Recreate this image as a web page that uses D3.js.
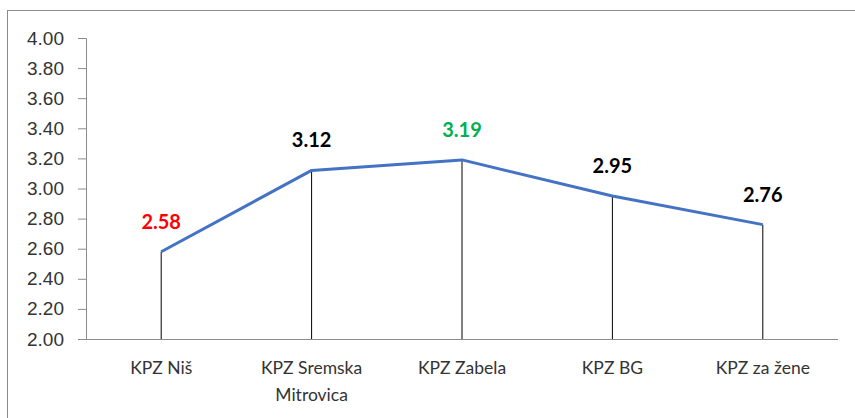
<!DOCTYPE html>
<meta charset="utf-8">
<style>
body { margin: 0; padding: 0; background: #fff; }
svg { display: block; font-family: Lato, "Open Sans", sans-serif; }
.axis path, .axis line { stroke: #8c8c8c; }
.axis text { fill: #333; }
</style>
<body>
<div id="chart"></div>
<script src="https://cdn.jsdelivr.net/npm/d3@7"></script>
<script>
// data
var categories = ["KPZ Niš", "KPZ Sremska Mitrovica", "KPZ Zabela", "KPZ BG", "KPZ za žene"];
var values = [2.58, 3.12, 3.19, 2.95, 2.76];
var labelColors = ["#ff0000", "#000000", "#00b050", "#000000", "#000000"];
var yTicks = [2.0, 2.2, 2.4, 2.6, 2.8, 3.0, 3.2, 3.4, 3.6, 3.8, 4.0];

var width = 855, height = 418;
var margin = {top: 38, right: 17, bottom: 79, left: 86};

var svg = d3.select("#chart").append("svg")
    .attr("width", width)
    .attr("height", height);

// chart frame
svg.append("rect")
    .attr("x", 7.5).attr("y", 10.5)
    .attr("width", 860).attr("height", 420)
    .attr("fill", "none")
    .attr("stroke", "#8c8c8c");

var x = d3.scaleBand()
    .domain(categories)
    .range([margin.left, width - margin.right]);

var y = d3.scaleLinear()
    .domain([2, 4])
    .range([height - margin.bottom, margin.top]);

// y axis
svg.append("g")
    .attr("class", "axis")
    .attr("transform", "translate(" + margin.left + ",0)")
    .call(d3.axisLeft(y).tickValues(yTicks).tickFormat(d3.format(".2f")).tickSizeOuter(0).tickSize(8).tickPadding(14))
    .call(function(g) { g.selectAll("text").attr("font-size", 19); });

// x axis
var xAxis = svg.append("g")
    .attr("class", "axis")
    .attr("transform", "translate(0," + (height - margin.bottom) + ")")
    .call(d3.axisBottom(x).tickSize(0).tickSizeOuter(0).tickFormat(""));

xAxis.select(".domain").attr("d", "M" + (margin.left - 8) + ",0.5H" + (width - margin.right));

// category labels, wrapped
var catLabels = [["KPZ Niš"], ["KPZ Sremska", "Mitrovica"], ["KPZ Zabela"], ["KPZ BG"], ["KPZ za žene"]];
svg.append("g").selectAll("text")
    .data(categories)
    .join("text")
    .attr("x", function(d) { return x(d) + x.bandwidth() / 2; })
    .attr("y", height - margin.bottom + 35)
    .attr("text-anchor", "middle")
    .attr("font-size", 17.5)
    .attr("fill", "#333")
    .each(function(d, i) {
        var t = d3.select(this);
        catLabels[i].forEach(function(line, j) {
            t.append("tspan")
                .attr("x", x(d) + x.bandwidth() / 2)
                .attr("dy", j === 0 ? 0 : 27)
                .text(line);
        });
    });

var cx = function(d, i) { return x(categories[i]) + x.bandwidth() / 2; };

// drop lines
svg.append("g").selectAll("line")
    .data(values)
    .join("line")
    .attr("x1", cx).attr("x2", cx)
    .attr("y1", function(d) { return y(d); })
    .attr("y2", y(2))
    .attr("stroke", "#000")
    .attr("stroke-width", 1);

// series line
var line = d3.line()
    .x(cx)
    .y(function(d) { return y(d); });

svg.append("path")
    .datum(values)
    .attr("d", line)
    .attr("fill", "none")
    .attr("stroke", "#4472c4")
    .attr("stroke-width", 3)
    .attr("stroke-linejoin", "round");

// value labels
svg.append("g").selectAll("text")
    .data(values)
    .join("text")
    .attr("x", cx)
    .attr("y", function(d) { return y(d) - 23; })
    .attr("text-anchor", "middle")
    .attr("font-size", 20)
    .attr("font-weight", "bold")
    .attr("fill", function(d, i) { return labelColors[i]; })
    .text(function(d) { return d3.format(".2f")(d); });
</script>
</body>
